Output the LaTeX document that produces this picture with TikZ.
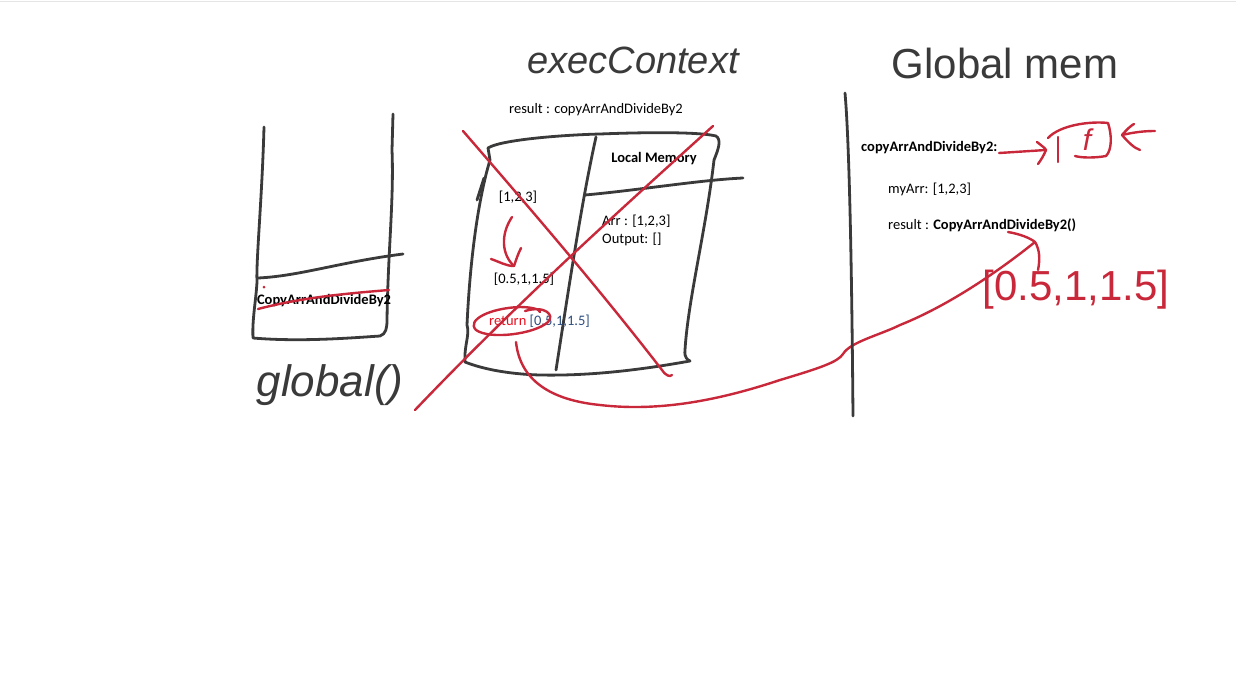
\documentclass[tikz,border=0pt]{standalone}
\usepackage{fontspec}
\setmainfont{Carlito}
\newfontfamily\hand{Liberation Sans}
\definecolor{ink}{HTML}{3A3A3A}
\definecolor{pen}{HTML}{C8283A}
\definecolor{txtblue}{HTML}{2F4F80}
\definecolor{txtred}{HTML}{E8101E}
\tikzset{
  inkline/.style={draw=ink,line width=2.8pt,line cap=round,line join=round},
  penline/.style={draw=pen,line width=2.4pt,line cap=round,line join=round},
  body/.style={font=\fontsize{14.5}{17}\selectfont,inner sep=0pt},
  bodyb/.style={font=\fontsize{14.5}{17}\selectfont\bfseries,inner sep=0pt},
  handtxt/.style={font=\hand\itshape\fontsize{38}{40}\selectfont,text=ink,inner sep=0pt},
  handred/.style={font=\hand\fontsize{42}{44}\selectfont,text=pen,inner sep=0pt},
}
\begin{document}
\begin{tikzpicture}[x=1pt,y=-1pt]
\useasboundingbox (0,0) rectangle (1236,694);
\fill[white] (0,0) rectangle (1236,694);
\draw[black!10,line width=1pt] (0,1) -- (1236,1);

% ---------- global() stack ----------
\coordinate (gsTL) at (264,127);
\coordinate (gsTR) at (393,114);
\draw[inkline] (gsTL) .. controls (262,200) and (256,260) .. (257,282)
  .. controls (256,300) and (252,320) .. (253,338)
  .. controls (300,342) and (350,338) .. (380,336)
  .. controls (386,334) and (387,328) .. (387,320)
  .. controls (388,250) and (394,200) .. (392,150) -- (gsTR);
\draw[inkline] (258,278) .. controls (300,276) and (340,262) .. (403,254);
\node[bodyb] (gscall) at (324,301) {CopyArrAndDivideBy2};
\draw[penline] (258,309) .. controls (300,298) and (340,294) .. (389,290);
\fill[pen] (264,287) circle (1.5);
\node[handtxt,font=\hand\itshape\fontsize{44}{46}\selectfont] (glab) at (330,385) {global()};

% ---------- exec context ----------
\node[handtxt] (eclab) at (633,60) {execContext};
\node[body] (res) at (596,110) {result : copyArrAndDivideBy2};

\draw[inkline] (488,148) .. controls (500,140) and (560,135) .. (600,134)
  .. controls (650,132) and (700,132) .. (716,136)
  .. controls (722,140) and (718,150) .. (714,160)
  .. controls (706,230) and (688,300) .. (685,350)
  .. controls (684,358) and (688,360) .. (690,361)
  .. controls (640,370) and (590,376) .. (540,375)
  .. controls (505,374) and (480,368) .. (465,362)
  .. controls (464,345) and (470,335) .. (467,325)
  .. controls (470,260) and (478,200) .. (490,160) -- cycle;
\draw[inkline] (477,200) -- (484,178);
\draw[inkline] (596,137) .. controls (582,200) and (570,280) .. (556,370);
\draw[inkline] (585,195) .. controls (640,190) and (700,180) .. (743,178);

\node[bodyb] (lm) at (654,159) {Local Memory};
\node[body] (a123) at (518,197) {[1,2,3]};
\node[body,anchor=west] (arr) at (602,221) {Arr : [1,2,3]};
\node[body,anchor=west] (outp) at (602,239) {Output: []};
\node[body] (half) at (524,279) {[0.5,1,1.5]};
\node[body,anchor=west] (ret) at (489,321) {\textcolor{txtred}{return} \textcolor{txtblue}{[0.5,1,1.5]}};

% red small bend arrow
\draw[penline] (512,217) .. controls (500,235) and (502,255) .. (514,266);
\draw[penline] (491,259) .. controls (500,262) and (506,266) .. (514,266) .. controls (516,260) and (518,254) .. (521,248);

% red ellipse around return
\draw[penline] (525,311) .. controls (545,305) and (555,315) .. (548,322)
  .. controls (535,334) and (490,340) .. (476,330)
  .. controls (466,320) and (490,308) .. (520,307)
  .. controls (530,307) and (540,309) .. (540,312);

% red X
\draw[penline] (463,131) .. controls (540,220) and (600,290) .. (662,370)
  .. controls (666,376) and (670,377) .. (672,375);
\draw[penline] (713,126) .. controls (620,210) and (520,300) .. (415,410);

% red return curve
\coordinate (rstart) at (516,342);
\coordinate (rend) at (1035,242);
\draw[penline] (rstart) .. controls (520,380) and (550,400) .. (600,405)
  .. controls (660,412) and (720,400) .. (780,380)
  .. controls (820,368) and (838,362) .. (843,354)
  .. controls (850,342) and (880,335) .. (900,325)
  .. controls (950,305) and (1000,270) .. (rend);
\draw[penline] (1008,232) .. controls (1020,234) and (1030,238) .. (rend) .. controls (1040,250) and (1040,260) .. (1038,270);

% ---------- global memory ----------
\node[handtxt,font=\hand\fontsize{42}{44}\selectfont] (gmlab) at (1005,63) {Global mem};
\draw[inkline] (845,93) .. controls (850,150) and (852,300) .. (853,416);

\node[bodyb,anchor=west] (fn) at (861,148) {copyArrAndDivideBy2:};
\node[body,anchor=west] (myarr) at (888,189) {myArr: [1,2,3]};
\node[body,anchor=west] (resg) at (888,225) {result : \textbf{CopyArrAndDivideBy2()}};

% f box
\coordinate (farrow) at (1046,150);
\draw[penline] (999,153) .. controls (1015,152) and (1030,151) .. (farrow);
\draw[penline] (1037,142) .. controls (1042,146) and (1045,148) .. (farrow) .. controls (1044,155) and (1041,160) .. (1038,164);
\draw[penline] (1058,137) -- (1058,162);
\draw[penline] (1048,138) .. controls (1060,125) and (1090,121) .. (1108,123)
  .. controls (1112,135) and (1112,150) .. (1106,156)
  .. controls (1095,158) and (1082,158) .. (1075,156);
\node[font=\hand\itshape\fontsize{30}{30}\selectfont,text=pen,inner sep=0pt] (f) at (1087,140) {f};
\draw[penline] (1155,131) .. controls (1145,131) and (1135,132) .. (1122,135)
  .. controls (1128,128) and (1132,125) .. (1134,124);
\draw[penline] (1122,135) .. controls (1128,142) and (1134,148) .. (1140,150);

\node[handred] (resval) at (1076,290) {[0.5,1,1.5]};
\end{tikzpicture}
\end{document}
